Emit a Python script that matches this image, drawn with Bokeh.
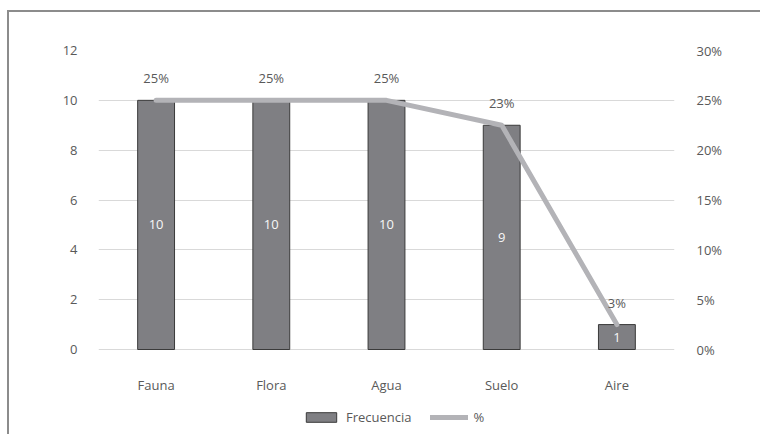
from bokeh.plotting import figure
from bokeh.models import (Range1d, LinearAxis, FixedTicker, PrintfTickFormatter, Legend,
                          LegendItem, ColumnDataSource, FactorRange)
from bokeh.core.properties import value
from bokeh.embed import file_html
from bokeh.resources import INLINE

categories = ["Fauna", "Flora", "Agua", "Suelo", "Aire"]
frecuencia = [10, 10, 10, 9, 1]
porcentaje = [25, 25, 25, 22.5, 2.5]
pct_labels = ["25%", "25%", "25%", "23%", "3%"]
left_ticks = [0, 2, 4, 6, 8, 10, 12]
right_ticks = [0, 5, 10, 15, 20, 25, 30]

FONT = "Open Sans"
TXT = "#595959"

src = ColumnDataSource(dict(
    cat=categories,
    freq=frecuencia,
    half=[f / 2 for f in frecuencia],
    freq_txt=[str(f) for f in frecuencia],
    pct=porcentaje,
    pct_txt=pct_labels,
))

# frame reaches the bottom of the page so the legend can sit below the axis labels
Y_MAX = 12
BELOW = 87 / (299 / Y_MAX)          # room under the zero line, in axis units
PCT_SCALE = 30 / Y_MAX

OFF_X, OFF_Y = 9, 12
p = figure(width=762 - OFF_X, height=436 - OFF_Y,
           x_range=FactorRange(*categories, range_padding=0),
           y_range=Range1d(-BELOW, Y_MAX), output_backend="svg", toolbar_location=None,
           min_border_left=98 - OFF_X, min_border_right=88,
           min_border_top=50 - OFF_Y, min_border_bottom=0,
           styles={"margin-left": "7px", "margin-top": "10px",
                   "border-left": "2px solid #8c8c8c",
                   "border-top": "2px solid #8c8c8c"})
p.extra_y_ranges = {"pct": Range1d(-BELOW * PCT_SCALE, 30)}
p.outline_line_color = None
p.background_fill_color = "white"
p.border_fill_color = "white"
p.xgrid.grid_line_color = None
p.ygrid.grid_line_color = "#d9d9d9"
p.ygrid.ticker = FixedTicker(ticks=left_ticks)

p.yaxis.ticker = FixedTicker(ticks=left_ticks)
ax = p.yaxis[0]
ax.axis_line_color = None
ax.major_tick_line_color = None
ax.minor_tick_line_color = None
ax.major_label_standoff = 15
ax.major_label_text_font = FONT
ax.major_label_text_font_size = "13px"
ax.major_label_text_color = TXT

rax = LinearAxis(y_range_name="pct", ticker=FixedTicker(ticks=right_ticks),
                 formatter=PrintfTickFormatter(format="%d%%"))
rax.axis_line_color = None
rax.major_tick_line_color = None
rax.minor_tick_line_color = None
rax.major_label_standoff = 16
rax.major_label_text_font = FONT
rax.major_label_text_font_size = "13px"
rax.major_label_text_color = TXT
p.add_layout(rax, "right")

p.xaxis.fixed_location = 0
p.xaxis.axis_line_color = None
p.xaxis.major_tick_line_color = None
p.xaxis.major_label_standoff = 20
p.xaxis.major_label_text_font = FONT
p.xaxis.major_label_text_font_size = "13px"
p.xaxis.major_label_text_color = TXT

bars = p.vbar(x="cat", top="freq", width=0.32, source=src, fill_color="#7f7f83",
              line_color="#3a3a3a", line_width=1)
line = p.line(x="cat", y="pct", source=src, y_range_name="pct", line_color="#b3b3b7",
              line_width=5, line_cap="round", line_join="round")

p.text(x="cat", y="half", text="freq_txt", source=src, text_align="center",
       text_baseline="middle", text_font=value(FONT), text_font_size="13px",
       text_color="#f7f7f7")
p.text(x="cat", y="pct", text="pct_txt", source=src, y_range_name="pct",
       text_align="center", text_baseline="middle", y_offset=-22,
       text_font=value(FONT), text_font_size="13px", text_color=TXT)

legend = Legend(items=[LegendItem(label="Frecuencia", renderers=[bars]),
                       LegendItem(label="%", renderers=[line])],
                orientation="horizontal", location=(204, 10), glyph_width=38,
                glyph_height=12, label_standoff=6, spacing=18, padding=0, margin=0,
                border_line_color=None, background_fill_alpha=0,
                label_text_font=FONT, label_text_font_size="13px",
                label_text_color=TXT, label_height=12)
p.add_layout(legend)

open("out.html", "w").write(file_html(p, INLINE))
